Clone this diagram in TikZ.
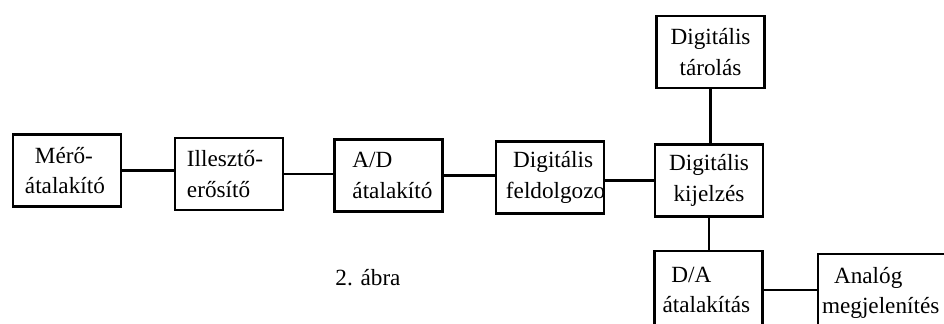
\documentclass[tikz,border=0pt]{standalone}
\usepackage{fontspec}
\setmainfont{Liberation Serif}

\begin{document}
\begin{tikzpicture}[x=0.025cm, y=-0.025cm, line width=1.5pt,
  every node/.style={font=\fontsize{16.5}{21.5}\selectfont},
  blokk/.style={draw, minimum width=2.7cm, minimum height=1.8cm, inner xsep=0.3cm, text width=2.1cm, align=left}]
  \useasboundingbox (0,0) rectangle (944,323);
  \clip (0,0) rectangle (944,323);

  \node[blokk] (mero) at (67,170.5) {\hspace*{0.25cm}Mérő-\\átalakító};
  \node[blokk] (illeszto) at (229,174) {Illesztő-\\erősítő};
  \node[blokk, inner xsep=0.45cm, text width=1.8cm] (ad) at (388.5,175.5) {A/D\\átalakító};
  \node[blokk, inner xsep=0.25cm, text width=2.2cm] (feldolg) at (550,177.5) {\hspace*{0.18cm}Digitális\\feldolgozo};
  \node[blokk, align=center] (kijelzes) at (709,180.5) {Digitális\\kijelzés};
  \node[blokk, align=center] (tarolas) at (710.5,52) {Digitális\\tárolás};
  \node[blokk, inner xsep=0.2cm, text width=2.3cm, minimum height=1.95cm, anchor=north] (da) at (708.5,250) {\hspace*{0.22cm}D/A\\átalakítás};
  \node[blokk, anchor=north west, inner xsep=0.1cm, text width=3.3cm, minimum height=1.95cm] (analog) at (817,253) {\hspace*{0.3cm}Analóg\\megjelenítés};

  \node (abra) at (368,278) {2. ábra};

  \draw (mero.east) -- (mero.east -| illeszto.west);
  \draw (illeszto.east) -- (illeszto.east -| ad.west);
  \draw (ad.east) -- (ad.east -| feldolg.west);
  \draw (kijelzes.west -| feldolg.east) -- (kijelzes.west);
  \draw (tarolas.south) -- (tarolas.south |- kijelzes.north);
  \draw (kijelzes.south) -- (kijelzes.south |- da.north);
  \draw (da.east) -- (da.east -| analog.west);
\end{tikzpicture}
\end{document}
